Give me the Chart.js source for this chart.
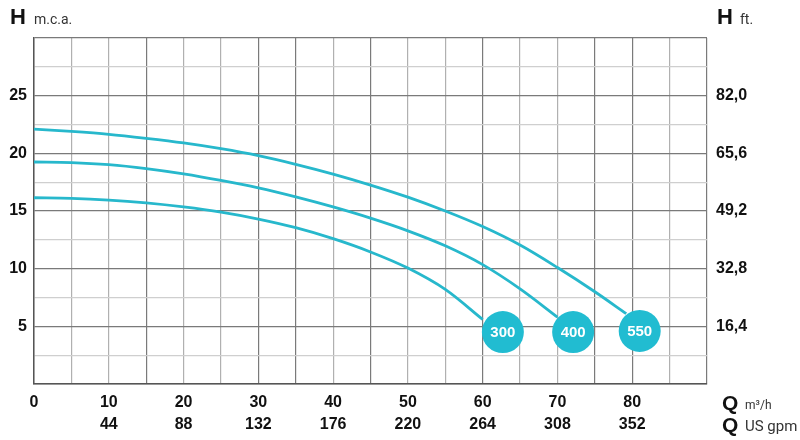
<!DOCTYPE html>
<html>
<head>
<meta charset="utf-8">
<script src="https://cdn.jsdelivr.net/npm/chart.js@4/dist/chart.umd.min.js"></script>
<style>
  body { margin: 0; background: #fff; }
  canvas { display: block; }
</style>
</head>
<body>
<canvas id="pumpChart" width="800" height="440"></canvas>
<script>
// Flow (m3/h) and head (m.c.a.)
const flow550 = [0, 5, 10, 15, 20, 25, 30, 35, 40, 45, 50, 55, 60, 65, 70, 75, 79.2];
const head550 = [22.1, 21.9, 21.65, 21.3, 20.9, 20.4, 19.8, 19.05, 18.2, 17.25, 16.2, 15.0, 13.65, 12.05, 10.1, 8.0, 6.1];
const flow400 = [0, 5, 10, 15, 20, 25, 30, 35, 40, 45, 50, 55, 60, 65, 70];
const head400 = [19.25, 19.2, 19.02, 18.68, 18.22, 17.65, 17.0, 16.22, 15.35, 14.38, 13.28, 11.98, 10.35, 8.25, 5.8];
const flow300 = [0, 5, 10, 15, 20, 25, 30, 35, 40, 45, 50, 55, 60];
const head300 = [16.15, 16.1, 15.95, 15.7, 15.35, 14.9, 14.3, 13.55, 12.6, 11.45, 10.05, 8.2, 5.6];

// Model badges at the end of each curve
const modelNames = ['300', '400', '550'];
const badgeFlow = [62.7, 72.1, 81.0];
const badgeHead = [4.5, 4.5, 4.6];

// Tick labels
const flowTicks = [0, 10, 20, 30, 40, 50, 60, 70, 80];
const gpmTicks = ['', '44', '88', '132', '176', '220', '264', '308', '352'];
const headTicks = [5, 10, 15, 20, 25];
const feetTicks = ['16,4', '32,8', '49,2', '65,6', '82,0'];

const teal = '#27b8cc';
const badgeTeal = '#21bcd1';
const darkGrid = '#7a7a7a';
const lightGrid = '#cfcfcf';
const darkX = [15, 30, 35, 45, 60, 75, 80, 90];

function toPoints(xs, ys) {
    return xs.map((x, i) => ({ x: x, y: ys[i] }));
}

// Unit titles and badge numbers
const textPlugin = {
    id: 'textPlugin',
    afterDatasetsDraw(chart) {
        const ctx = chart.ctx;
        const meta = chart.getDatasetMeta(0);
        ctx.save();
        ctx.fillStyle = '#fff';
        ctx.font = 'bold 15px "Liberation Sans", Arial, sans-serif';
        ctx.textAlign = 'center';
        ctx.textBaseline = 'middle';
        meta.data.forEach((pt, i) => {
            ctx.fillText(modelNames[i], pt.x, pt.y + 1);
        });
        ctx.restore();
    },
    afterDraw(chart) {
        const ctx = chart.ctx;
        ctx.save();
        ctx.fillStyle = '#111';
        ctx.textBaseline = 'alphabetic';
        ctx.textAlign = 'left';
        const big = 'bold 22px "Liberation Sans", Arial, sans-serif';
        const small = '14px Roboto, "Liberation Sans", sans-serif';

        ctx.font = big; ctx.fillText('H', 10, 24);
        ctx.font = small; ctx.fillStyle = '#333'; ctx.fillText('m.c.a.', 34, 24);

        ctx.fillStyle = '#111';
        ctx.font = big; ctx.fillText('H', 717, 24);
        ctx.font = small; ctx.fillStyle = '#333'; ctx.fillText('ft.', 740, 24);

        ctx.fillStyle = '#111';
        ctx.font = 'bold 21px "Liberation Sans", Arial, sans-serif';
        ctx.fillText('Q', 722, 410);
        ctx.fillText('Q', 722, 432);
        ctx.fillStyle = '#333';
        ctx.font = '12px Roboto, "Liberation Sans", sans-serif';
        ctx.fillText('m³/h', 745, 409);
        ctx.font = '15px Roboto, "Liberation Sans", sans-serif';
        ctx.fillText('US gpm', 745, 431);
        ctx.restore();
    }
};

const tickFont = { family: '"Liberation Sans", Arial, sans-serif', size: 16, weight: 'bold', lineHeight: 1.35 };

const lineStyle = {
    borderColor: teal,
    borderWidth: 2.8,
    pointRadius: 0,
    cubicInterpolationMode: 'monotone',
    fill: false
};

const ctx = document.getElementById('pumpChart').getContext('2d');
const pumpChart = new Chart(ctx, {
    type: 'line',
    data: {
        datasets: [
            {
                type: 'scatter',
                data: toPoints(badgeFlow, badgeHead),
                pointRadius: 21,
                pointHoverRadius: 21,
                pointBackgroundColor: badgeTeal,
                pointBorderWidth: 0,
                showLine: false
            },
            Object.assign({ data: toPoints(flow550, head550) }, lineStyle),
            Object.assign({ data: toPoints(flow400, head400) }, lineStyle),
            Object.assign({ data: toPoints(flow300, head300) }, lineStyle)
        ]
    },
    options: {
        responsive: false,
        animation: false,
        layout: { padding: { top: 38, left: 0, right: 0, bottom: 0 } },
        plugins: {
            legend: { display: false },
            tooltip: { enabled: false }
        },
        scales: {
            x: {
                type: 'linear',
                min: 0,
                max: 90,
                afterFit: scale => { scale.height = 56; },
                border: { display: true, color: '#555', width: 1.5 },
                grid: {
                    drawTicks: false,
                    lineWidth: 1.2,
                    color: c => darkX.includes(c.tick.value) ? darkGrid : '#b0b0b0'
                },
                ticks: {
                    stepSize: 5,
                    padding: 8,
                    color: '#111',
                    font: tickFont,
                    maxRotation: 0,
                    autoSkip: false,
                    callback: v => {
                        const i = flowTicks.indexOf(v);
                        return i < 0 ? '' : [String(v), gpmTicks[i]];
                    }
                }
            },
            y: {
                min: 0,
                max: 30,
                afterFit: scale => { scale.width = 34; },
                border: { display: true, color: '#555', width: 1.5 },
                grid: {
                    drawTicks: false,
                    lineWidth: 1.2,
                    color: c => c.tick.value % 5 === 0 ? darkGrid : lightGrid
                },
                ticks: {
                    stepSize: 2.5,
                    padding: 7,
                    color: '#111',
                    font: tickFont,
                    autoSkip: false,
                    callback: v => headTicks.includes(v) ? String(v) : ''
                }
            },
            yft: {
                position: 'right',
                min: 0,
                max: 30,
                afterFit: scale => { scale.width = 93; },
                border: { display: false },
                grid: { display: false, drawTicks: false },
                ticks: {
                    stepSize: 2.5,
                    padding: 9,
                    color: '#111',
                    font: tickFont,
                    autoSkip: false,
                    callback: v => {
                        const i = headTicks.indexOf(v);
                        return i < 0 ? '' : feetTicks[i];
                    }
                }
            }
        }
    },
    plugins: [textPlugin]
});
</script>
</body>
</html>
